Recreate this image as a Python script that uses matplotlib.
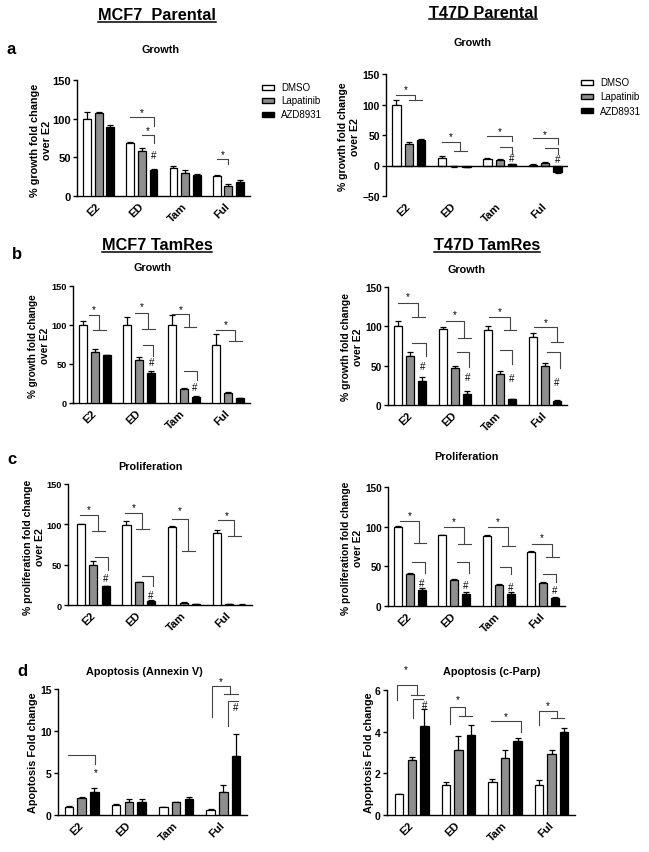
import numpy as np
import matplotlib
matplotlib.use('Agg')
import matplotlib.pyplot as plt
from matplotlib.transforms import Affine2D
from matplotlib.patches import Rectangle
from matplotlib.lines import Line2D

plt.rcParams['font.family'] = ['Liberation Sans', 'DejaVu Sans']

W, H = 649, 853
treatments = ['E2', 'ED', 'Tam', 'Ful']
drugs = ['DMSO', 'Lapatinib', 'AZD8931']
bar_colors = ['white', '#8e8e8e', 'black']
offsets = [-0.27, 0.0, 0.27]

# rows: DMSO, Lapatinib, AZD8931 ; columns: E2, ED, Tam, Ful
mcf7_par_growth = [[100, 68, 36, 26], [107, 58, 30, 13], [89, 33, 27, 18]]
mcf7_par_growth_err = [[9, 2, 3, 1], [2, 4, 4, 3], [3, 2, 2, 3]]

t47d_par_growth = [[100, 13, 11, 1], [35, -1, 9, 4], [41, -2, 2, -11]]
t47d_par_growth_err = [[7, 3, 2, 1], [3, 1, 2, 2], [3, 1, 1, 2]]

mcf7_tr_growth = [[100, 100, 100, 75], [65, 55, 18, 13], [61, 39, 8, 6]]
mcf7_tr_growth_err = [[5, 10, 13, 13], [4, 4, 1, 1], [1, 2, 1, 1]]

t47d_tr_growth = [[100, 96, 95, 87], [62, 47, 39, 49], [31, 14, 7, 5]]
t47d_tr_growth_err = [[7, 3, 5, 5], [5, 2, 4, 4], [5, 4, 1, 1]]

mcf7_tr_prolif = [[100, 99, 97, 89], [50, 28, 3, 1], [23, 5, 1, 0.5]]
mcf7_tr_prolif_err = [[1, 5, 1, 4], [4, 1, 1, 0.5], [1, 1, 0.5, 0.3]]

t47d_tr_prolif = [[100, 89, 88, 68], [40, 33, 26, 29], [20, 15, 15, 10]]
t47d_tr_prolif_err = [[1, 1, 1, 1], [1, 1, 2, 1], [3, 3, 3, 1]]

mcf7_apop = [[1.0, 1.2, 0.9, 0.6], [2.0, 1.5, 1.5, 2.7], [2.7, 1.5, 1.9, 7.0]]
mcf7_apop_err = [[0.1, 0.1, 0.1, 0.1], [0.2, 0.4, 0.1, 0.9], [0.5, 0.4, 0.2, 2.7]]

t47d_apop = [[1.0, 1.45, 1.6, 1.45], [2.65, 3.1, 2.75, 2.95], [4.25, 3.85, 3.55, 4.0]]
t47d_apop_err = [[0.0, 0.15, 0.15, 0.25], [0.15, 0.7, 0.35, 0.15], [0.85, 0.45, 0.15, 0.2]]

# significance brackets: (group, x1, x2, y_top, y_right_end, y_left_end, tee, star_y)
sig_a_left = [(1, -0.27, 0.27, 102, 91, None, False, 108),
              (1, 0.0, 0.27, 79, 69, None, False, 85),
              (3, -0.27, 0.0, 48, 41, None, False, 54)]
hash_a_left = [(1.27, 53, '#')]

sig_a_right = [(0, -0.27, 0.135, 116, 107, None, True, 125),
               (1, -0.27, 0.135, 39, 23, None, True, 48),
               (2, -0.27, 0.27, 49, 40, None, False, 56),
               (2, 0.0, 0.27, 30, 19, None, False, None),
               (3, -0.27, 0.27, 45, 36, None, False, 52),
               (3, 0.0, 0.27, 29, 19, None, False, None)]
hash_a_right = [(2.27, 12, '#'), (3.27, 11, '#')]

sig_b_left = [(0, -0.14, 0.09, 113, 93, None, True, 121),
              (1, -0.11, 0.2, 115, 95, None, True, 124),
              (1, 0.08, 0.3, 74, 60, None, False, None),
              (2, -0.26, 0.13, 114, 97, None, True, 121),
              (2, 0.01, 0.3, 41, 29, None, False, None),
              (3, -0.26, 0.16, 93, 80, None, True, 101)]
hash_b_left = [(1.27, 52, '#'), (2.26, 20, '#')]

sig_b_right = [(0, -0.28, 0.17, 130, 112, None, True, 139),
               (0, 0.04, 0.34, 79, 62, None, False, None),
               (1, -0.2, 0.2, 107, 85, None, True, 116),
               (1, 0.04, 0.31, 68, 48, None, False, None),
               (2, -0.24, 0.22, 112, 95, None, True, 120),
               (2, 0.0, 0.28, 70, 52, None, False, None),
               (3, -0.24, 0.27, 99, 80, None, True, 106),
               (3, 0.06, 0.34, 67, 47, None, False, None)]
hash_b_right = [(0.28, 50, '#'), (1.27, 36, '#'), (2.27, 34, '#'), (3.27, 29, '#')]

sig_c_left = [(0, -0.29, 0.1, 111, 92, None, True, 119),
              (0, 0.04, 0.32, 59, 43, None, False, None),
              (1, -0.3, 0.07, 114, 94, None, True, 121),
              (1, 0.07, 0.32, 36, 24, None, False, None),
              (2, -0.26, 0.09, 107, 67, None, True, 118),
              (3, -0.24, 0.11, 105, 85, None, True, 112)]
hash_c_left = [(0.27, 33, '#'), (1.27, 13, '#')]

sig_c_right = [(0, -0.24, 0.21, 107, 80, None, True, 115),
               (0, 0.04, 0.33, 55, 41, None, False, None),
               (1, -0.24, 0.22, 100, 78, None, True, 107),
               (1, 0.07, 0.32, 56, 41, None, False, None),
               (2, -0.25, 0.21, 100, 76, None, True, 107),
               (2, 0.02, 0.28, 49, 40, None, False, None),
               (3, -0.24, 0.21, 78, 62, None, True, 87),
               (3, 0.01, 0.29, 40, 30, None, False, None)]
hash_c_right = [(0.27, 29, '#'), (1.25, 26, '#'), (2.27, 24, '#'), (3.27, 20, '#')]

sig_d_left = [(0, -0.28, 0.28, 7.1, 6.1, None, False, None),
              (3, -0.25, 0.15, 15.3, 14.4, 11.7, True, 15.9),
              (3, 0.09, 0.32, 13.6, None, 10.6, False, None)]
hash_d_left = [(0.29, 5.1, '*'), (3.27, 12.8, '#')]

sig_d_right = [(0, -0.32, 0.11, 6.26, 5.78, 5.5, True, None),
               (0, 0.02, 0.25, 5.57, None, 4.66, False, None),
               (1, -0.19, 0.15, 5.2, 4.77, 4.37, True, 5.55),
               (2, -0.29, 0.34, 4.53, 4.0, None, False, 4.75),
               (3, -0.27, 0.11, 5.0, 4.64, 4.32, True, 5.26)]
hash_d_right = [(-0.13, 7.0, '*'), (0.27, 5.3, '#')]

fig = plt.figure(figsize=(W / 100, H / 100), dpi=100)
pix = Affine2D().scale(1 / W, -1 / H).translate(0, 1) + fig.transFigure
line_c = '#444444'


def add_ax(left, top, right, bottom):
    return fig.add_axes([left / W, 1 - bottom / H, (right - left) / W, (bottom - top) / H])


def bars(ax, vals, errs, ylim, yticks, fs=7.5, xlim=(-0.5, 3.5), zero_line=False):
    x = np.arange(len(treatments))
    for k in range(3):
        v = np.array(vals[k], dtype=float)
        e = np.array(errs[k], dtype=float)
        pos = x + offsets[k]
        ax.bar(pos, v, 0.18, color=bar_colors[k], edgecolor='black', lw=0.9, zorder=3)
        lower = np.where(v < 0, e, 0)
        upper = np.where(v < 0, 0, e)
        ax.errorbar(pos, v, yerr=[lower, upper], fmt='none', ecolor='black',
                    elinewidth=0.9, capsize=2.2, capthick=0.9, zorder=2)
    ax.set_xlim(*xlim)
    ax.set_ylim(*ylim)
    ax.set_yticks(yticks)
    ax.set_xticks(x)
    ax.set_xticklabels(treatments, rotation=45, ha='right', va='center',
                       rotation_mode='anchor', fontsize=8, fontweight='bold')
    ax.tick_params(axis='x', length=0, pad=6)
    ax.tick_params(axis='y', length=3, width=1, pad=1.5, labelsize=fs)
    for t in ax.get_yticklabels():
        t.set_fontweight('bold')
    for s in ['top', 'right']:
        ax.spines[s].set_visible(False)
    ax.spines['left'].set_linewidth(1)
    ax.spines['bottom'].set_linewidth(1)
    if zero_line:
        ax.spines['bottom'].set_visible(False)
        ax.axhline(0, color='black', lw=1, zorder=4)
    ax.patch.set_visible(False)


def sig(ax, items, marks):
    for g, x1, x2, ytop, yr, yl, tee, sy in items:
        xa, xb = g + x1, g + x2
        xs, ys = [xa, xb], [ytop, ytop]
        if yl is not None:
            xs, ys = [xa] + xs, [yl] + ys
        if yr is not None:
            xs, ys = xs + [xb], ys + [yr]
        ax.plot(xs, ys, color=line_c, lw=0.8, clip_on=False)
        if tee:
            ax.plot([xb - 0.13, xb + 0.15], [yr, yr], color=line_c, lw=0.8, clip_on=False)
        if sy is not None:
            ax.text((xa + xb) / 2, sy, '*', ha='center', va='center', fontsize=7, clip_on=False)
    for x, y, s in marks:
        ax.text(x, y, s, ha='center', va='center', fontsize=7, clip_on=False)


def ftext(x, y, s, size, weight='bold', rot=0, ha='center'):
    return fig.text(x, y, s, transform=pix, fontsize=size, fontweight=weight,
                    ha=ha, va='center', rotation=rot, linespacing=1.15)


def legend(x, y, step):
    for k, name in enumerate(drugs):
        yy = y + k * step
        fig.patches.append(Rectangle((x, yy + 2.5), 12, -5, transform=pix, facecolor=bar_colors[k],
                                     edgecolor='black', lw=1))
        ftext(x + 19, yy, name, 7, weight='normal', ha='left')


growth_lab = '% growth fold change\nover E2'
prolif_lab = '% proliferation fold change\nover E2'

# panel a
ax = add_ax(77, 81, 250, 197)
bars(ax, mcf7_par_growth, mcf7_par_growth_err, (0, 150), [0, 50, 100, 150], fs=8)
sig(ax, sig_a_left, hash_a_left)
ax = add_ax(386, 75, 568, 197)
bars(ax, t47d_par_growth, t47d_par_growth_err, (-50, 150), [-50, 0, 50, 100, 150],
     fs=7.5, zero_line=True)
sig(ax, sig_a_right, hash_a_right)

# panel b
ax = add_ax(73, 287, 250, 404)
bars(ax, mcf7_tr_growth, mcf7_tr_growth_err, (0, 150), [0, 50, 100, 150], fs=6.6)
sig(ax, sig_b_left, hash_b_left)
ax = add_ax(388, 288, 567, 406)
bars(ax, t47d_tr_growth, t47d_tr_growth_err, (0, 150), [0, 50, 100, 150], fs=7.2)
sig(ax, sig_b_right, hash_b_right)

# panel c
ax = add_ax(68, 485, 252, 606)
bars(ax, mcf7_tr_prolif, mcf7_tr_prolif_err, (0, 150), [0, 50, 100, 150], fs=6.6,
     xlim=(-0.56, 3.5))
sig(ax, sig_c_left, hash_c_left)
ax = add_ax(388, 488, 565, 607)
bars(ax, t47d_tr_prolif, t47d_tr_prolif_err, (0, 150), [0, 50, 100, 150], fs=7.2)
sig(ax, sig_c_right, hash_c_right)

# panel d
ax = add_ax(58, 690, 247, 816)
bars(ax, mcf7_apop, mcf7_apop_err, (0, 15), [0, 5, 10, 15], fs=7.5)
sig(ax, sig_d_left, hash_d_left)
ax = add_ax(387, 691, 575, 816)
bars(ax, t47d_apop, t47d_apop_err, (0, 6), [0, 2, 4, 6], fs=7.5, xlim=(-0.53, 3.5))
sig(ax, sig_d_right, hash_d_right)

# titles and labels
heads = [ftext(157, 16, 'MCF7  Parental', 11.7), ftext(483, 13, 'T47D Parental', 11.7),
         ftext(157, 246, 'MCF7 TamRes', 11.7), ftext(487, 246, 'T47D TamRes', 11.7)]
ftext(11, 50, 'a', 12)
ftext(17, 255, 'b', 12)
ftext(12, 460, 'c', 12)
ftext(22, 672, 'd', 12)
ftext(160, 50, 'Growth', 7.8)
ftext(472, 43, 'Growth', 7.8)
ftext(152, 268, 'Growth', 7.8)
ftext(466, 270, 'Growth', 7.8)
ftext(150, 467, 'Proliferation', 7.8)
ftext(466, 457, 'Proliferation', 7.8)
ftext(144, 672, 'Apoptosis (Annexin V)', 7.8)
ftext(492, 672, 'Apoptosis (c-Parp)', 7.8)

ftext(41, 140, growth_lab, 7.8, rot=90)
ftext(349, 137, growth_lab, 7.6, rot=90)
ftext(39, 346, growth_lab, 7.2, rot=90)
ftext(352, 347, growth_lab, 7.5, rot=90)
ftext(34, 547, prolif_lab, 7.6, rot=90)
ftext(352, 548, prolif_lab, 7.4, rot=90)
ftext(33, 753, 'Apoptosis Fold change', 7.8, rot=90)
ftext(369, 753, 'Apoptosis Fold change', 7.8, rot=90)

legend(262, 88, 13.5)
legend(581, 83, 14.3)

# underline the cell line headings
fig.canvas.draw()
r = fig.canvas.get_renderer()
for t in heads:
    bb = t.get_window_extent(r)
    yb = bb.y0 + 1
    fig.lines.append(Line2D([bb.x0 / W, bb.x1 / W], [yb / H, yb / H], transform=fig.transFigure,
                            color='black', lw=1.1))

fig.savefig('out.png', dpi=100)
